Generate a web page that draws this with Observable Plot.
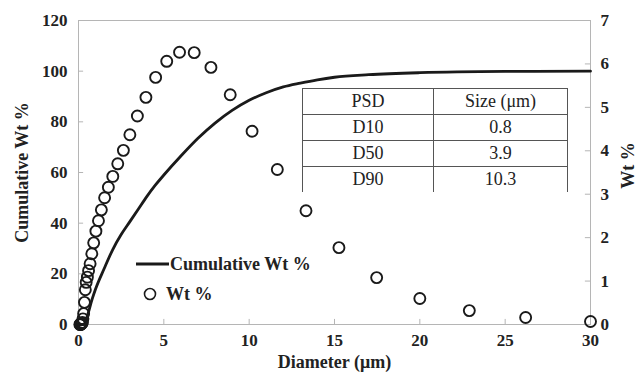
<!DOCTYPE html>
<html>
<head>
<meta charset="utf-8">
<script src="https://cdn.jsdelivr.net/npm/d3@7"></script>
<script src="https://cdn.jsdelivr.net/npm/@observablehq/plot@0.6"></script>
<style>
  html, body { margin: 0; padding: 0; background: #fff; }
  #wrap { position: relative; width: 640px; height: 378px; font-family: "Liberation Serif", "Times New Roman", serif; color: #222; }
  #legend { position: absolute; left: 134px; top: 249px; font-weight: bold; font-size: 18px; }
  #legend .row { display: flex; align-items: center; height: 30px; }
  #psd { position: absolute; left: 302px; top: 88px; border-collapse: collapse; font-size: 18px; }
  #psd td { border: 1px solid #555; height: 25px; padding: 0; text-align: center; line-height: 25px; }
  #psd td.c1 { width: 130px; }
  #psd td.c2 { width: 133px; }
  #psd tr.last td { border-bottom: none; }
</style>
</head>
<body>
<div id="wrap"></div>
<script>
// Cumulative Wt % curve (left axis)
const cumDiameter = [0, 0.3, 0.5, 0.8, 1.0, 1.5, 2, 2.5, 3, 3.5, 4, 4.5, 5, 6, 7, 8, 9, 10, 11, 12, 13, 14, 15, 17, 20, 25, 30];
const cumWt       = [0, 0, 3, 10, 14, 22, 29.5, 35.5, 40.5, 45.5, 50.5, 55, 59, 66.5, 73.5, 79.5, 84.5, 88.5, 91.5, 93.8, 95.3, 96.6, 97.6, 98.6, 99.4, 99.9, 100];

// Wt % points (right axis)
const binDiameter = [0.08,0.10,0.12,0.13,0.15,0.18,0.20,0.23,0.26,0.30,0.35,0.40,0.45,0.52,0.59,0.68,0.78,0.89,1.02,1.17,1.34,1.53,1.75,2.01,2.30,2.63,3.01,3.45,3.95,4.52,5.17,5.92,6.78,7.76,8.89,10.17,11.65,13.33,15.26,17.47,20.0,22.9,26.2,30.0];
const binWt       = [0,0,0,0.01,0.01,0.02,0.03,0.05,0.13,0.25,0.51,0.80,0.97,1.09,1.24,1.40,1.63,1.88,2.15,2.39,2.64,2.92,3.16,3.41,3.70,4.01,4.37,4.80,5.23,5.69,6.06,6.27,6.26,5.92,5.29,4.45,3.57,2.62,1.77,1.08,0.60,0.32,0.16,0.07];

// Ticks
const xTicks = [0, 5, 10, 15, 20, 25, 30];
const yLeftTicks = [0, 20, 40, 60, 80, 100, 120];
const yRightTicks = [0, 1, 2, 3, 4, 5, 6, 7];

// Table
const psdLabels = ["D10", "D50", "D90"];
const psdSizes = ["0.8", "3.9", "10.3"];

const leftMax = 120, rightMax = 7;
const k = leftMax / rightMax;

const cum = cumDiameter.map((d, i) => ({d, v: cumWt[i]}));
const bins = binDiameter.map((d, i) => ({d, v: binWt[i]}));

const chart = Plot.plot({
  width: 640,
  height: 378,
  marginLeft: 78,
  marginRight: 50,
  marginTop: 20,
  marginBottom: 54,
  style: {fontFamily: '"Liberation Serif", "Times New Roman", serif', fontSize: "17px", color: "#222", background: "#fff"},
  x: {domain: [0, 30]},
  y: {domain: [0, leftMax]},
  marks: [
    Plot.frame({stroke: "#b5b5b5"}),
    // inward tick marks
    Plot.ruleX(xTicks.slice(1, -1), {x: d => d, y1: 0, y2: 2, stroke: "#b5b5b5"}),
    Plot.ruleY(yLeftTicks.slice(1, -1), {y: d => d, x1: 0, x2: 0.3, stroke: "#b5b5b5"}),
    Plot.ruleY(yRightTicks.slice(1, -1), {y: d => d * k, x1: 29.7, x2: 30, stroke: "#b5b5b5"}),
    Plot.axisX(xTicks, {tickSize: 0, tickPadding: 9, fontWeight: "bold", label: null}),
    Plot.axisY(yLeftTicks, {anchor: "left", tickSize: 0, tickPadding: 11, fontWeight: "bold", label: null}),
    Plot.axisY(yRightTicks.map(v => v * k), {anchor: "right", tickSize: 0, tickPadding: 10, fontWeight: "bold", label: null, tickFormat: v => String(Math.round(v / k))}),
    Plot.text(["Diameter (μm)"], {frameAnchor: "bottom", dy: 43, fontWeight: "bold", fontSize: 18}),
    Plot.text(["Cumulative Wt %"], {frameAnchor: "left", textAnchor: "middle", dx: -56, rotate: -90, fontWeight: "bold", fontSize: 18}),
    Plot.text(["Wt %"], {frameAnchor: "right", textAnchor: "middle", dx: 38, dy: -7, rotate: -90, fontWeight: "bold", fontSize: 18}),
    Plot.line(cum, {x: "d", y: "v", stroke: "#1a1a1a", strokeWidth: 2.8, curve: "monotone-x"}),
    Plot.dot(bins, {x: "d", y: d => d.v * k, r: 5.5, stroke: "#1a1a1a", strokeWidth: 1.9, fill: "none"})
  ]
});

const wrap = document.getElementById("wrap");
wrap.appendChild(chart);

// Legend
const legend = document.createElement("div");
legend.id = "legend";
legend.innerHTML =
  '<div class="row"><svg width="36" height="10"><line x1="2" x2="35" y1="5" y2="5" stroke="#1a1a1a" stroke-width="3"/></svg><span>Cumulative Wt %</span></div>' +
  '<div class="row"><svg width="32" height="16"><circle cx="16" cy="8" r="5.5" fill="none" stroke="#1a1a1a" stroke-width="1.6"/></svg><span>Wt %</span></div>';
wrap.appendChild(legend);

// PSD table
const table = document.createElement("table");
table.id = "psd";
let html = '<tr><td class="c1">PSD</td><td class="c2">Size (μm)</td></tr>';
psdLabels.forEach((l, i) => {
  html += '<tr' + (i === psdLabels.length - 1 ? ' class="last"' : '') + '><td class="c1">' + l + '</td><td class="c2">' + psdSizes[i] + '</td></tr>';
});
table.innerHTML = html;
wrap.appendChild(table);
</script>
</body>
</html>
